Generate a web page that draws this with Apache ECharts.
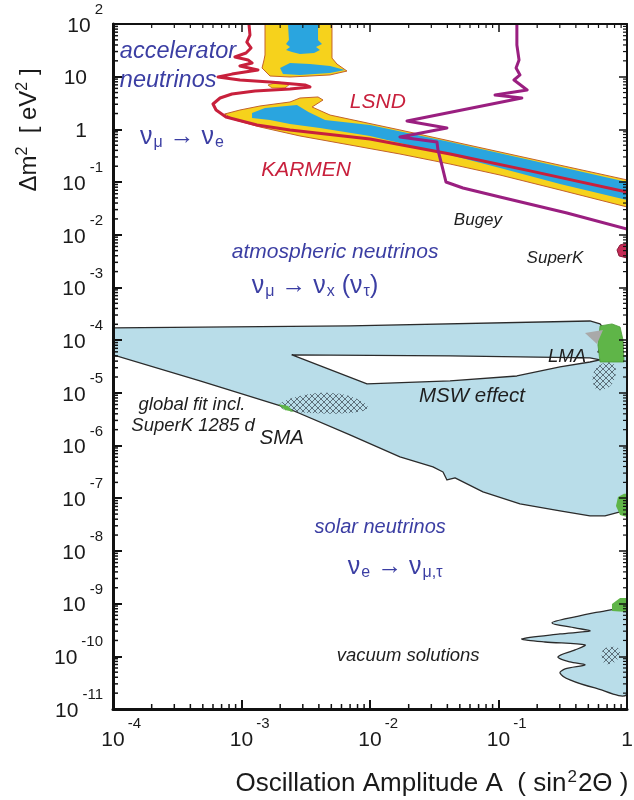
<!DOCTYPE html>
<html><head><meta charset="utf-8">
<script src="https://cdn.jsdelivr.net/npm/echarts@6/dist/echarts.min.js"></script>
<style>html,body{margin:0;padding:0;background:#fff}#c{width:634px;height:800px}</style>
</head><body><div id="c"></div>
<script>
// ---------- axes ----------
const xTickValues = [1e-4, 1e-3, 1e-2, 1e-1, 1];
const xTickLabels = [['10','-4'],['10','-3'],['10','-2'],['10','-1'],['1','']];
const yTickValues = [1e-11,1e-10,1e-9,1e-8,1e-7,1e-6,1e-5,1e-4,1e-3,1e-2,1e-1,1,10,100];
const yTickLabels = [['10','-11'],['10','-10'],['10','-9'],['10','-8'],['10','-7'],['10','-6'],['10','-5'],['10','-4'],['10','-3'],['10','-2'],['10','-1'],['1',''],['10',''],['10','2']];

// ---------- solar neutrino regions [sin^2 2theta, dm^2] ----------
const solarRegion = [[1e-4,1.71e-4],[6.98e-3,1.86e-4],[0.515,2.31e-4],[0.617,2.03e-4],[0.687,1.43e-4],[0.662,8.85e-5],[0.594,5.97e-5],[0.738,5.01e-5],[1,5.01e-5],[1,7.46e-8],[0.883,5.50e-8],[0.674,4.61e-8],[0.515,4.61e-8],[0.301,5.74e-8],[0.147,7.80e-8],[7.57e-2,1.32e-7],[4.59e-2,2.43e-7],[3.97e-2,2.22e-7],[3.70e-2,3.15e-7],[3.09e-2,3.93e-7],[1.71e-2,6.08e-7],[6.98e-3,1.59e-6],[2.26e-3,5.16e-6],[4.75e-4,1.68e-5],[1e-4,5.24e-5]];
const solarHole = [[2.47e-3,5.24e-5],[4.20e-2,5.01e-5],[0.515,4.59e-5],[0.617,4.21e-5],[0.515,3.85e-5],[0.301,3.10e-5],[0.139,2.09e-5],[4.20e-2,1.68e-5],[9.48e-3,1.48e-5]];
const lmaRegion = [[0.617,1.86e-4],[0.764,2.03e-4],[0.883,1.78e-4],[0.931,1.01e-4],[0.948,3.85e-5],[0.617,3.85e-5],[0.594,8.11e-5]];
const lmaGray = [[0.471,1.37e-4],[0.650,1.56e-4],[0.584,8.47e-5]];
const lmaHatch = [[0.617,3.38e-5],[0.764,3.69e-5],[0.821,2.49e-5],[0.738,1.35e-5],[0.594,1.135e-5],[0.543,1.61e-5],[0.553,2.49e-5]];
const smaHatch = [[1.995e-3,6.15e-6],[2.85e-3,8.73e-6],[4.89e-3,9.95e-6],[7.64e-3,8.00e-6],[9.64e-3,5.16e-6],[6.98e-3,4.16e-6],[3.41e-3,4.16e-6],[2.18e-3,4.73e-6]];
const smaRegion = [[1.923e-3,6.15e-6],[2.30e-3,5.64e-6],[2.56e-3,4.35e-6],[2.18e-3,4.73e-6]];
const lowRegion = [[0.851,1.06e-7],[0.948,1.21e-7],[1,1.21e-7],[1,4.42e-8],[0.883,4.82e-8],[0.821,7.14e-8]];
const vacuumRegion = [[1,7.26e-10],[0.617,6.96e-10],[0.394,5.60e-10],[0.261,4.31e-10],[0.394,3.46e-10],[0.515,3.03e-10],[0.301,2.66e-10],[0.152,2.14e-10],[0.230,1.87e-10],[0.471,1.64e-10],[0.394,1.32e-10],[0.290,9.75e-11],[0.360,7.83e-11],[0.471,6.87e-11],[0.330,5.77e-11],[0.301,4.84e-11],[0.360,3.56e-11],[0.563,2.51e-11],[1,1.93e-11]];
const vacuumGreen = [[0.764,9.86e-10],[0.883,1.28e-9],[1,1.28e-9],[1,6.96e-10],[0.764,7.26e-10]];
const vacuumHatch = [[0.650,1.32e-10],[0.807,1.51e-10],[0.883,1.21e-10],[0.807,7.83e-11],[0.662,7.50e-11]];

// ---------- atmospheric ----------
const superKRegion = [[1,6.98e-3],[0.883,6.40e-3],[0.836,5.15e-3],[0.867,3.96e-3],[1,3.63e-3]];

// ---------- accelerator ----------
const lsndOuterColumn = [[1.524e-3,100],[5.06e-3,100],[5.06e-3,22.6],[5.53e-3,17.4],[6.62e-3,12.8],[4.89e-3,10.8],[3.41e-3,10.3],[2.385e-3,9.87],[1.667e-3,10.3],[1.445e-3,14.6],[1.497e-3,20.8],[1.524e-3,25.8]];
const lsndOuterBlob = [[1.607e-3,6.96],[1.923e-3,7.93],[2.385e-3,7.26],[2.18e-3,6.11],[1.726e-3,6.11]];
const lsndOuterBand = [[7.4e-4,1.96],[9.72e-4,2.33],[1.393e-3,2.78],[2.385e-3,3.31],[2.85e-3,3.94],[3.94e-3,4.12],[4.31e-3,3.61],[3.54e-3,2.66],[4.89e-3,1.87],[1.71e-2,0.975],[0.1028,0.372],[1,0.110],[1,0.0337],[0.301,0.0708],[0.1028,0.136],[4.20e-2,0.220],[1.71e-2,0.341],[6.98e-3,0.506],[2.85e-3,0.750],[1.393e-3,1.11],[8.89e-4,1.51]];
const lsnd90Column = [[2.30e-3,100],[3.94e-3,100],[3.94e-3,49.7],[4.23e-3,41.7],[3.80e-3,36.6],[4.08e-3,32.2],[3.67e-3,28.2],[2.85e-3,27.0],[2.47e-3,29.5],[2.22e-3,32.2],[2.385e-3,36.6],[2.22e-3,41.7],[2.34e-3,49.7]];
const lsnd90Blob = [[1.995e-3,14.6],[2.385e-3,18.2],[3.41e-3,17.4],[4.89e-3,16.0],[6.38e-3,13.4],[4.89e-3,11.7],[2.85e-3,10.8],[2.104e-3,11.2]];
const lsnd90Band = [[1.208e-3,2.05],[1.524e-3,2.55],[2.70e-3,2.90],[3.32e-3,2.14],[4.47e-3,1.51],[1e-2,1.21],[4.20e-2,0.577],[0.176,0.262],[1,0.1005],[1,0.0457],[0.301,0.0921],[0.1028,0.185],[4.20e-2,0.327],[1.71e-2,0.552],[1e-2,0.750],[4.08e-3,1.06],[2.385e-3,1.26],[1.667e-3,1.51],[1.208e-3,1.64]];
const karmenLimit = [[1.143e-3,100],[1.164e-3,61.8],[1.10e-3,45.5],[1.186e-3,35.1],[1.084e-3,28.2],[8.89e-4,23.7],[1.125e-3,20.8],[1.208e-3,18.2],[9.72e-4,16.0],[1.343e-3,13.4],[8.43e-4,11.2],[6.56e-4,9.87],[9.72e-4,8.65],[1.667e-3,7.93],[3.12e-3,6.96],[3.41e-3,6.38],[2.385e-3,5.84],[1.274e-3,5.36],[8.43e-4,4.70],[6.81e-4,3.94],[6.0e-4,3.03],[6.34e-4,2.33],[7.57e-4,1.72],[1.32e-3,1.21],[2.385e-3,0.975],[1e-2,0.658],[4.20e-2,0.341],[0.176,0.163],[1,0.0649]];
const bugeyLimit = [[0.139,100],[0.139,40.0],[0.1445,20.8],[0.137,14.6],[0.147,10.8],[0.132,8.65],[0.167,5.60],[9.40e-2,4.50],[0.152,3.94],[1.94e-2,1.44],[3.97e-2,1.06],[1.71e-2,0.718],[3.32e-2,0.577],[3.38e-2,0.407],[3.70e-2,0.170],[3.90e-2,0.1005],[5.29e-2,0.0773],[0.1028,0.0521],[0.341,0.0259],[1,0.0129]];

// ---------- annotations ----------
const annotations = [
  {text:'accelerator', x:1.13e-4, y:29.5, kind:'blueL', align:'left'},
  {text:'neutrinos', x:1.13e-4, y:8.65, kind:'blueL', align:'left'},
  {text:'{m|ν}{s|μ}{m| → ν}{s|e}', x:1.62e-4, y:0.687, kind:'greek', align:'left'},
  {text:'LSND', x:1.15e-2, y:3.31, kind:'red'},
  {text:'KARMEN', x:3.18e-3, y:0.170, kind:'red'},
  {text:'Bugey', x:6.92e-2, y:0.0191, kind:'dark'},
  {text:'SuperK', x:0.275, y:3.63e-3, kind:'dark'},
  {text:'atmospheric neutrinos', x:5.35e-3, y:4.72e-3, kind:'blue'},
  {text:'{m|ν}{s|μ}{m| → ν}{s|x}{m| (ν}{s|τ}{m|)}', x:3.73e-3, y:1.02e-3, kind:'greek'},
  {text:'LMA', x:0.341, y:4.80e-5, kind:'darkM'},
  {text:'MSW effect', x:6.22e-2, y:8.73e-6, kind:'darkL'},
  {text:'global fit incl.', x:4.12e-4, y:5.89e-6, kind:'darkM'},
  {text:'SuperK 1285 d', x:4.20e-4, y:2.35e-6, kind:'darkM'},
  {text:'SMA', x:2.06e-3, y:1.39e-6, kind:'darkL'},
  {text:'solar neutrinos', x:1.20e-2, y:2.85e-8, kind:'blueS'},
  {text:'{m|ν}{s|e}{m| → ν}{s|μ,τ}', x:1.57e-2, y:4.75e-9, kind:'greek'},
  {text:'vacuum solutions', x:1.98e-2, y:1.02e-10, kind:'darkM'}
];

const FONT = 'Liberation Sans, Arial, DejaVu Sans, sans-serif';
const BLUE = '#3b3ea3', RED = '#c8203c', DARK = '#1e1e1e', INK = '#1a1a1a';

const mctx = document.createElement('canvas').getContext('2d');
function textW(t, size) { mctx.font = size + 'px "Liberation Sans", Arial, sans-serif'; return mctx.measureText(t).width; }

// hatch pattern
const hatch = document.createElement('canvas'); hatch.width = 6; hatch.height = 6;
(function(){ const c = hatch.getContext('2d'); c.fillStyle = 'rgba(70,85,95,0.8)';
  for (let i = 0; i < 6; i++) { c.fillRect(i, i, 1, 1); c.fillRect(5 - i, i, 1, 1); } })();
const hatchFill = { image: hatch, repeat: 'repeat' };

function shape(name, pts, o) {
  return {
    name, type: 'custom', coordinateSystem: 'cartesian2d', silent: true, animation: false, clip: true,
    z: o.z || 2, data: pts,
    renderItem: function (params, api) {
      if (params.dataIndex !== 0) return;
      const points = pts.map(p => api.coord(p));
      const open = o.open;
      return {
        type: open ? 'polyline' : 'polygon',
        shape: { points: points, smooth: o.smooth || 0 },
        style: { fill: open ? null : o.fill, stroke: o.stroke || null, lineWidth: o.lineWidth || 0, lineJoin: 'round' }
      };
    }
  };
}

function txt(x, y, text, size, align) {
  return { type: 'text', x: x, y: y, style: { text: text, fontSize: size, fontFamily: FONT, fill: INK, align: align, verticalAlign: 'middle' } };
}

const chart = echarts.init(document.getElementById('c'), null, { renderer: 'canvas' });
const frameAxis = (w) => ({ show: true, lineStyle: { color: '#111', width: w } });
const tickLabelData = yTickValues.map(v => [1e-4, v]).concat(xTickValues.map(v => [v, 1e-11]));

const option = {
  backgroundColor: '#ffffff',
  animation: false,
  grid: { left: 113, right: 7, top: 24, bottom: 91, outerBoundsMode: 'none' },
  xAxis: [
    { type: 'log', logBase: 10, min: 1e-4, max: 1, interval: 1, splitNumber: 4, position: 'bottom', z: 20,
      axisLine: frameAxis(3), splitLine: { show: false }, axisLabel: { show: false },
      axisTick: { inside: true, length: 9, lineStyle: { color: '#111', width: 2 } } },
    { type: 'log', logBase: 10, min: 1e-4, max: 1, interval: 1, splitNumber: 4, position: 'top', z: 20,
      axisLine: frameAxis(2), splitLine: { show: false }, axisLabel: { show: false },
      axisTick: { inside: true, length: 8, lineStyle: { color: '#111', width: 1.5 } } }
  ],
  yAxis: [
    { type: 'log', logBase: 10, min: 1e-11, max: 100, interval: 1, splitNumber: 13, position: 'left', z: 20,
      axisLine: frameAxis(3), splitLine: { show: false }, axisLabel: { show: false },
      axisTick: { inside: true, length: 9, lineStyle: { color: '#111', width: 2 } } },
    { type: 'log', logBase: 10, min: 1e-11, max: 100, interval: 1, splitNumber: 13, position: 'right', z: 20,
      axisLine: frameAxis(2), splitLine: { show: false }, axisLabel: { show: false },
      axisTick: { inside: true, length: 8, lineStyle: { color: '#111', width: 1.5 } } }
  ],
  graphic: [
    { type: 'text', x: 28, y: 130, rotation: Math.PI / 2, z: 30,
      style: { text: '{a|Δm}{s|2}{a|  [ eV}{s|2}{a| ]}', align: 'center', verticalAlign: 'middle',
        rich: { a: { fontSize: 24, lineHeight: 26, fontFamily: FONT, fill: INK, verticalAlign: 'bottom' },
                s: { fontSize: 16, lineHeight: 16, padding: [0,0,14,0], fontFamily: FONT, fill: INK, verticalAlign: 'top' } } } },
    { type: 'text', x: 432, y: 783, z: 30,
      style: { text: '{a|Oscillation Amplitude A  ( sin}{s|2}{a|2Θ )}', align: 'center', verticalAlign: 'middle',
        rich: { a: { fontSize: 26, lineHeight: 28, fontFamily: FONT, fill: INK, verticalAlign: 'bottom' },
                s: { fontSize: 17, lineHeight: 17, padding: [0,1,14,1], fontFamily: FONT, fill: INK, verticalAlign: 'top' } } } }
  ],
  series: [
    shape('solar', solarRegion, { fill: '#b9dde9', stroke: '#2b2b2b', lineWidth: 1.3, z: 2 }),
    shape('solarHole', solarHole, { fill: '#ffffff', stroke: '#2b2b2b', lineWidth: 1.3, z: 3 }),
    shape('vacuum', vacuumRegion, { fill: '#b9dde9', stroke: '#2b2b2b', lineWidth: 1.3, z: 3, smooth: 0.3 }),
    shape('smaHatch', smaHatch, { fill: hatchFill, z: 4, smooth: 0.4 }),
    shape('lmaHatch', lmaHatch, { fill: hatchFill, z: 4, smooth: 0.4 }),
    shape('vacuumHatch', vacuumHatch, { fill: hatchFill, z: 4, smooth: 0.4 }),
    shape('LMA', lmaRegion, { fill: '#5fb548', stroke: '#4a9a36', lineWidth: 0.8, z: 5 }),
    shape('lmaGray', lmaGray, { fill: '#a9a9a9', z: 6 }),
    shape('SMA', smaRegion, { fill: '#5fb548', z: 5 }),
    shape('LOW', lowRegion, { fill: '#5fb548', z: 5 }),
    shape('vacuumGreen', vacuumGreen, { fill: '#5fb548', z: 5 }),
    shape('SuperK', superKRegion, { fill: '#c42a55', stroke: '#8a1a3a', lineWidth: 1, z: 9 }),
    shape('LSND 99 column', lsndOuterColumn, { fill: '#f6d21c', stroke: '#c4622a', lineWidth: 1, z: 7 }),
    shape('LSND 99 blob', lsndOuterBlob, { fill: '#f6d21c', stroke: '#c4622a', lineWidth: 0.8, z: 7 }),
    shape('LSND 99 band', lsndOuterBand, { fill: '#f6d21c', stroke: '#c4622a', lineWidth: 1, z: 7 }),
    shape('LSND 90 column', lsnd90Column, { fill: '#2aa5df', z: 8 }),
    shape('LSND 90 blob', lsnd90Blob, { fill: '#2aa5df', z: 8 }),
    shape('LSND 90 band', lsnd90Band, { fill: '#2aa5df', z: 8 }),
    shape('KARMEN', karmenLimit, { open: true, stroke: RED, lineWidth: 3, z: 9 }),
    shape('Bugey', bugeyLimit, { open: true, stroke: '#9a1f80', lineWidth: 3, z: 9 }),
    {
      name: 'minorTicks', type: 'custom', coordinateSystem: 'cartesian2d', silent: true, animation: false, z: 21,
      data: [[1e-4, 1e-11]],
      renderItem: function (params, api) {
        const ch = [];
        const ln = (x1, y1, x2, y2, w) => ({ type: 'line', shape: { x1, y1, x2, y2 }, style: { stroke: '#111', lineWidth: w } });
        for (let i = 0; i < yTickValues.length - 1; i++) for (let k = 2; k <= 9; k++) {
          const v = k * yTickValues[i];
          const a = api.coord([1e-4, v]), b = api.coord([1, v]);
          ch.push(ln(a[0], a[1], a[0] + 5, a[1], 1.5), ln(b[0], b[1], b[0] - 4, b[1], 1.2));
        }
        for (let i = 0; i < xTickValues.length - 1; i++) for (let k = 2; k <= 9; k++) {
          const v = k * xTickValues[i];
          const a = api.coord([v, 1e-11]), b = api.coord([v, 100]);
          ch.push(ln(a[0], a[1], a[0], a[1] - 5, 1.5), ln(b[0], b[1], b[0], b[1] + 4, 1.2));
        }
        return { type: 'group', children: ch };
      }
    },
    {
      name: 'tickLabels', type: 'custom', coordinateSystem: 'cartesian2d', silent: true, animation: false, z: 22,
      data: tickLabelData,
      renderItem: function (params, api) {
        const i = params.dataIndex;
        const p = api.coord(tickLabelData[i]);
        if (i < yTickValues.length) {
          const l = yTickLabels[i];
          if (!l[1]) return { type: 'group', children: [txt(p[0] - 26, p[1] + 2, l[0], 21, 'right')] };
          const ew = textW(l[1], 15);
          return { type: 'group', children: [
            txt(p[0] - 10, p[1] - 14, l[1], 15, 'right'),
            txt(p[0] - 10 - ew - 4, p[1] + 2, l[0], 21, 'right')
          ] };
        }
        const l = xTickLabels[i - yTickValues.length];
        if (!l[1]) return { type: 'group', children: [txt(p[0], p[1] + 31, l[0], 21, 'center')] };
        const bw = textW(l[0], 21);
        return { type: 'group', children: [
          txt(p[0], p[1] + 31, l[0], 21, 'center'),
          txt(p[0] + bw / 2 + 3, p[1] + 15, l[1], 15, 'left')
        ] };
      }
    },
    {
      name: 'labels', type: 'custom', coordinateSystem: 'cartesian2d', silent: true, animation: false, z: 15,
      data: annotations.map(a => [a.x, a.y]),
      renderItem: function (params, api) {
        const a = annotations[params.dataIndex];
        const p = api.coord([a.x, a.y]);
        let st;
        if (a.kind === 'greek') {
          st = { rich: {
            m: { fontSize: 25, lineHeight: 26, fontFamily: FONT, fill: BLUE, verticalAlign: 'top' },
            s: { fontSize: 16, lineHeight: 16, padding: [12,0,0,1], fontFamily: FONT, fill: BLUE, verticalAlign: 'bottom' } } };
        } else if (a.kind === 'blue') {
          st = { fontSize: 21, fontStyle: 'italic', fontFamily: FONT, fill: BLUE };
        } else if (a.kind === 'blueL') {
          st = { fontSize: 23.5, fontStyle: 'italic', fontFamily: FONT, fill: BLUE };
        } else if (a.kind === 'blueS') {
          st = { fontSize: 20, fontStyle: 'italic', fontFamily: FONT, fill: BLUE };
        } else if (a.kind === 'red') {
          st = { fontSize: 21, fontStyle: 'italic', fontFamily: FONT, fill: RED };
        } else if (a.kind === 'darkL') {
          st = { fontSize: 20.5, fontStyle: 'italic', fontFamily: FONT, fill: DARK };
        } else if (a.kind === 'darkM') {
          st = { fontSize: 18.5, fontStyle: 'italic', fontFamily: FONT, fill: DARK };
        } else {
          st = { fontSize: 17, fontStyle: 'italic', fontFamily: FONT, fill: DARK };
        }
        return { type: 'text', x: p[0], y: p[1],
          style: Object.assign({ text: a.text, align: a.align || 'center', verticalAlign: 'middle' }, st) };
      }
    }
  ]
};
chart.setOption(option);
</script></body></html>
